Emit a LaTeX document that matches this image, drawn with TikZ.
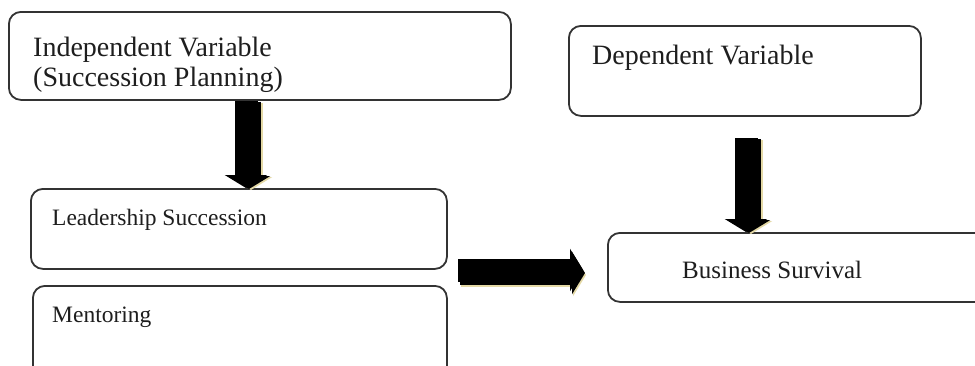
\documentclass[tikz,border=0pt]{standalone}
\usepackage{fontspec}
\setmainfont{Liberation Serif}
\usetikzlibrary{arrows.meta,calc}
\definecolor{boxline}{HTML}{333333}
\definecolor{txt}{HTML}{1E1E1E}
\definecolor{shade}{HTML}{A89458}
\definecolor{shadelt}{HTML}{E4D9A6}
\tikzset{
  box/.style={draw=boxline, line width=1.8pt, rounded corners=12pt, fill=white, inner sep=0pt, anchor=north west},
  lbl/.style={anchor=base west, inner sep=0pt, text=txt},
  fatarrow/.style={line width=23pt, -{Triangle[length=13pt,width=42pt]}},
}
\begin{document}
\begin{tikzpicture}[x=1pt,y=-1pt]
\useasboundingbox (0,0) rectangle (975,365);
\clip (0,0) rectangle (975,365);
% boxes
\node[box, minimum width=502pt, minimum height=88pt] (IV) at (8,11) {};
\node[box, minimum width=352pt, minimum height=90pt] (DV) at (568,25) {};
\node[box, minimum width=416pt, minimum height=80pt] (LS) at (30,188) {};
\node[box, minimum width=414pt, minimum height=95pt] (ME) at (32,285) {};
\node[box, minimum width=390pt, minimum height=69pt] (BS) at (607,232) {};
% texts
\node[lbl, font=\fontsize{28}{30}\selectfont] (t1) at (33,56) {Independent Variable};
\node[lbl, font=\fontsize{28}{30}\selectfont] (t2) at (33,86) {(Succession Planning)};
\node[lbl, font=\fontsize{28}{30}\selectfont] (t3) at (592,64) {Dependent Variable};
\node[lbl, font=\fontsize{23.5}{26}\selectfont] (t4) at (52,225) {Leadership Succession};
\node[lbl, font=\fontsize{23.5}{26}\selectfont] (t5) at (52,322) {Mentoring};
\node[lbl, font=\fontsize{25}{28}\selectfont] (t6) at (682,278) {Business Survival};
% arrow positions
\coordinate (a1x) at (246,0);
\coordinate (a2s) at (746,138);
\coordinate (a3s) at (458,270);
\coordinate (a3e) at (583,270);
% shadows
\draw[fatarrow, shadelt] ($(IV.south -| a1x)+(5,2)$) -- ($(LS.north -| a1x)+(5,2)$);
\draw[fatarrow, shadelt] ($(a2s)+(5,2)$) -- ($(BS.north -| a2s)+(5,2)$);
\draw[fatarrow, shadelt] ($(a3s)+(3,5)$) -- ($(a3e)+(3,5)$);
\draw[fatarrow, shade] ($(IV.south -| a1x)+(3,1)$) -- ($(LS.north -| a1x)+(3,1)$);
\draw[fatarrow, shade] ($(a2s)+(3,1)$) -- ($(BS.north -| a2s)+(3,1)$);
\draw[fatarrow, shade] ($(a3s)+(2,3)$) -- ($(a3e)+(2,3)$);
% arrows
\draw[fatarrow, black] (IV.south -| a1x) -- (LS.north -| a1x);
\draw[fatarrow, black] (a2s) -- (BS.north -| a2s);
\draw[fatarrow, black] (a3s) -- (a3e);
\end{tikzpicture}
\end{document}
